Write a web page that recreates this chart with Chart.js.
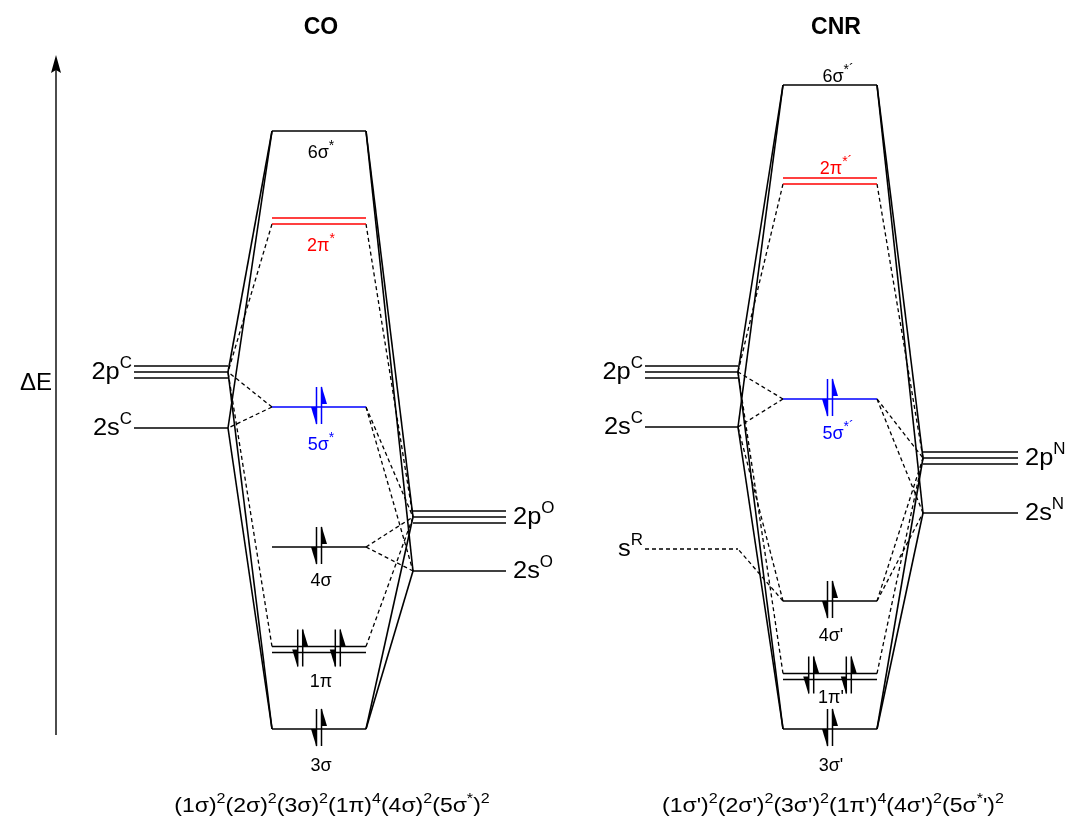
<!DOCTYPE html>
<html>
<head>
<meta charset="utf-8">
<script src="https://cdn.jsdelivr.net/npm/chart.js@4.4.1/dist/chart.umd.min.js"></script>
<style>
html,body{margin:0;padding:0;background:#ffffff;}
#wrap{width:1073px;height:818px;position:relative;}
</style>
</head>
<body>
<div id="wrap"><canvas id="c"></canvas></div>
<script>
// ================= DATA =================
// Energies on an arbitrary upward energy scale (0 = bottom of the figure).

// ---- CO ----
const coIds        = ['2pC','2sC','6s*','2pi*','5s*','4s','1pi','3s','2pO','2sO'];
const coLabels     = ['2p^{C}','2s^{C}','6σ^{*}','2π^{*}','5σ^{*}','4σ','1π','3σ','2p^{O}','2s^{O}'];
const coColumns    = ['L','L','M','M','M','M','M','M','R','R'];
const coEnergies   = [446, 390, 687, 597, 411, 271, 168.5, 89, 301, 247];
const coDegeneracy = [3, 1, 1, 2, 1, 1, 2, 1, 3, 1];
const coElectrons  = [0, 0, 0, 0, 2, 2, 4, 2, 0, 0];
const coSolid  = [['6s*','2pC'],['6s*','2sC'],['3s','2pC'],['3s','2sC'],
                  ['6s*','2pO'],['6s*','2sO'],['3s','2pO'],['3s','2sO']];
const coDashed = [['2pi*','2pC'],['2pi*','2pO'],['5s*','2pC'],['5s*','2sC'],
                  ['5s*','2pO'],['5s*','2sO'],['4s','2pO'],['4s','2sO'],
                  ['1pi','2pC'],['1pi','2pO']];
const coTitle  = 'CO';
const coConfig = '(1σ)^{2}(2σ)^{2}(3σ)^{2}(1π)^{4}(4σ)^{2}(5σ^{*})^{2}';

// ---- CNR ----
const cnrIds        = ['2pC','2sC','sR','6s*','2pi*','5s*','4s','1pi','3s','2pN','2sN'];
const cnrLabels     = ['2p^{C}','2s^{C}','s^{R}','6σ^{*´}','2π^{*´}','5σ^{*´}',"4σ'","1π'","3σ'",'2p^{N}','2s^{N}'];
const cnrColumns    = ['L','L','L','M','M','M','M','M','M','R','R'];
const cnrEnergies   = [446, 391, 269, 733, 637, 419, 217, 141.5, 89, 360, 305];
const cnrDegeneracy = [3, 1, 1, 1, 2, 1, 1, 2, 1, 3, 1];
const cnrElectrons  = [0, 0, 0, 0, 0, 2, 2, 4, 2, 0, 0];
const cnrSolid  = [['6s*','2pC'],['6s*','2sC'],['3s','2pC'],['3s','2sC'],
                   ['6s*','2pN'],['6s*','2sN'],['3s','2pN'],['3s','2sN']];
const cnrDashed = [['2pi*','2pC'],['2pi*','2pN'],['5s*','2pC'],['5s*','2sC'],
                   ['5s*','2pN'],['5s*','2sN'],['4s','2sC'],['4s','sR'],
                   ['4s','2pN'],['4s','2sN'],['1pi','2pC'],['1pi','2pN']];
const cnrTitle  = 'CNR';
const cnrConfig = "(1σ')^{2}(2σ')^{2}(3σ')^{2}(1π')^{4}(4σ')^{2}(5σ^{*}')^{2}";

// energy axis (ΔE) extent, in energy units
const axisEnergy = [83, 763];
const axisLabel  = 'ΔE';

// ================= LAYOUT / STYLE =================
const layout = {
  co:  { L:[134,228], M:[272,366], R:[413,506], titleX:321, formulaX:332,
         labelDy:{'6s*':21,'2pi*':24,'5s*':37,'4s':33,'1pi':31,'3s':36},
         labelDx:{} },
  cnr: { L:[645,738], M:[783,877], R:[923,1018], titleX:836, formulaX:833,
         labelDy:{'6s*':-9,'2pi*':-13,'5s*':34,'4s':34,'1pi':20,'3s':36},
         labelDx:{'6s*':6,'2pi*':4,'5s*':6,'4s':-1,'1pi':-1,'3s':-1} },
  axisX: 56,
  lineGap: 6,          // energy units between degenerate lines
  titleY: 34,
  formulaY: 812,
  axisLabelPos: [36, 390]
};
const colors = { level:'#000000', red:'#ff0000', blue:'#0000ff' };
const levelColor = { '2pi*':colors.red, '5s*':colors.blue };
const dashedLevels = ['sR'];
const FONT = '"Liberation Sans", Arial, Helvetica, sans-serif';

// ================= BUILD =================
function makeDiagram(ids, labels, cols, energies, deg, elec, solid, dashed, L){
  const idx = {}; ids.forEach((id,i)=>idx[id]=i);
  const ds = [];
  const lineEnergies = i => {
    const out = [];
    for (let k=0;k<deg[i];k++) out.push(energies[i] + layout.lineGap*((deg[i]-1)/2 - k));
    return out;
  };
  ids.forEach((id,i)=>{
    const [x0,x1] = L[cols[i]];
    lineEnergies(i).forEach(E=>{
      ds.push({ data:[{x:x0,y:E},{x:x1,y:E}], showLine:true, pointRadius:0,
        borderColor: levelColor[id]||colors.level, borderWidth:1.7,
        borderDash: dashedLevels.includes(id)?[4,3]:[] });
    });
  });
  const endE = (i, otherE) => {
    if (deg[i]%2===1) return energies[i];
    const le = lineEnergies(i);
    return otherE > energies[i] ? le[0] : le[le.length-1];
  };
  const conn = (pair, dash) => {
    const m = idx[pair[0]], a = idx[pair[1]];
    const side = cols[a];
    const ax = side==='L' ? L.L[1] : L.R[0];
    const mx = side==='L' ? L.M[0] : L.M[1];
    const mE = endE(m, energies[a]);
    const aE = endE(a, energies[m]);
    ds.push({ data:[{x:mx,y:mE},{x:ax,y:aE}], showLine:true, pointRadius:0,
      borderColor:'#000', borderWidth: dash?1.3:1.6, borderDash: dash?[4,3]:[] });
  };
  solid.forEach(p=>conn(p,false));
  dashed.forEach(p=>conn(p,true));
  return ds;
}

const coSets  = makeDiagram(coIds, coLabels, coColumns, coEnergies, coDegeneracy, coElectrons, coSolid, coDashed, layout.co);
const cnrSets = makeDiagram(cnrIds, cnrLabels, cnrColumns, cnrEnergies, cnrDegeneracy, cnrElectrons, cnrSolid, cnrDashed, layout.cnr);
const axisSet = { data:[{x:layout.axisX,y:axisEnergy[0]},{x:layout.axisX,y:axisEnergy[1]-14}], showLine:true,
  pointRadius:0, borderColor:'#000', borderWidth:1.4 };

// ================= TEXT HELPERS =================
function segs(s){
  const out=[]; const re=/\^\{([^}]*)\}/g; let last=0, m;
  while((m=re.exec(s))){ if(m.index>last) out.push({t:s.slice(last,m.index),sup:false});
    out.push({t:m[1],sup:true}); last=re.lastIndex; }
  if(last<s.length) out.push({t:s.slice(last),sup:false});
  return out;
}
function drawRich(ctx, s, x, y, size, align, color, opts){
  opts = opts || {};
  const parts = segs(s);
  const supSize = Math.round(size*(opts.supRatio||0.68)), rise = size*0.45;
  const h = opts.hscale || 1;
  const f = sz => `${opts.weight||'normal'} ${sz}px ${FONT}`;
  let w=0;
  parts.forEach(p=>{ ctx.font=f(p.sup?supSize:size); p.w=ctx.measureText(p.t).width*h; w+=p.w; });
  let cx = align==='center' ? x-w/2 : align==='right' ? x-w : x;
  ctx.fillStyle=color; ctx.textAlign='left'; ctx.textBaseline='alphabetic';
  parts.forEach(p=>{
    ctx.font=f(p.sup?supSize:size);
    ctx.save(); ctx.translate(cx, p.sup?y-rise:y); ctx.scale(h,1); ctx.fillText(p.t, 0, 0); ctx.restore();
    cx+=p.w;
  });
}

function drawArrowPair(ctx, cx, cy, color){
  const top = cy-20, bot = cy+17;
  ctx.strokeStyle=color; ctx.fillStyle=color; ctx.lineWidth=1.5;
  // down arrow (left)
  const xd = cx-2.5;
  ctx.beginPath(); ctx.moveTo(xd, top); ctx.lineTo(xd, bot); ctx.stroke();
  ctx.beginPath(); ctx.moveTo(xd, bot+1); ctx.lineTo(xd-5.5, bot-17); ctx.lineTo(xd, bot-17); ctx.closePath(); ctx.fill();
  // up arrow (right)
  const xu = cx+2.5;
  ctx.beginPath(); ctx.moveTo(xu, top); ctx.lineTo(xu, bot); ctx.stroke();
  ctx.beginPath(); ctx.moveTo(xu, top-1); ctx.lineTo(xu+5.5, top+17); ctx.lineTo(xu, top+17); ctx.closePath(); ctx.fill();
}

function decorate(chart, ids, labels, cols, energies, deg, elec, L, title, config){
  const ctx = chart.ctx, xs = chart.scales.x, ys = chart.scales.y;
  ids.forEach((id,i)=>{
    const [x0,x1] = L[cols[i]];
    const py = ys.getPixelForValue(energies[i]);
    const color = levelColor[id]||colors.level;
    if (cols[i]==='M'){
      const mid = xs.getPixelForValue((x0+x1)/2);
      const w = xs.getPixelForValue(x1)-xs.getPixelForValue(x0);
      const n = elec[i]/2;
      const pos = deg[i]===1 ? [mid] : [mid-0.2*w, mid+0.2*w];
      for (let k=0;k<n;k++) drawArrowPair(ctx, pos[k%pos.length], py, color);
      const size = 18;
      drawRich(ctx, labels[i], mid+(L.labelDx[id]||0)+2, py+L.labelDy[id]+size*0.36, size, 'center', color, {supRatio:0.8});
    } else if (cols[i]==='L'){
      drawRich(ctx, labels[i], xs.getPixelForValue(x0)-2, py+7, 24, 'right', '#000', {hscale:1.06});
    } else {
      drawRich(ctx, labels[i], xs.getPixelForValue(x1)+7, py+7, 24, 'left', '#000', {hscale:1.06});
    }
  });
  drawRich(ctx, title, L.titleX, layout.titleY, 23, 'center', '#000', {weight:'bold'});
  drawRich(ctx, config, L.formulaX, layout.formulaY, 20, 'center', '#000', {hscale:1.15});
}

const diagramPlugin = {
  id:'diagram',
  afterDatasetsDraw(chart){
    const ctx = chart.ctx, xs = chart.scales.x, ys = chart.scales.y;
    ctx.save();
    // axis arrow head
    const ax = xs.getPixelForValue(layout.axisX), ay = ys.getPixelForValue(axisEnergy[1]);
    ctx.fillStyle='#000'; ctx.beginPath();
    ctx.moveTo(ax, ay); ctx.lineTo(ax-5, ay+18); ctx.lineTo(ax, ay+15); ctx.lineTo(ax+5, ay+18); ctx.closePath(); ctx.fill();
    drawRich(ctx, axisLabel, layout.axisLabelPos[0], layout.axisLabelPos[1], 24, 'center', '#000');
    decorate(chart, coIds, coLabels, coColumns, coEnergies, coDegeneracy, coElectrons, layout.co, coTitle, coConfig);
    decorate(chart, cnrIds, cnrLabels, cnrColumns, cnrEnergies, cnrDegeneracy, cnrElectrons, layout.cnr, cnrTitle, cnrConfig);
    ctx.restore();
  }
};

new Chart(document.getElementById('c'), {
  type:'scatter',
  data:{ datasets:[axisSet, ...coSets, ...cnrSets] },
  options:{
    responsive:true, maintainAspectRatio:false, animation:false, events:[],
    layout:{ padding:0 },
    plugins:{ legend:{display:false}, tooltip:{enabled:false}, title:{display:false} },
    scales:{
      x:{ type:'linear', min:0, max:1073, display:false },
      y:{ type:'linear', min:0, max:818, display:false }
    },
    elements:{ line:{ tension:0, borderCapStyle:'butt' } }
  },
  plugins:[diagramPlugin]
});
</script>
</body>
</html>
